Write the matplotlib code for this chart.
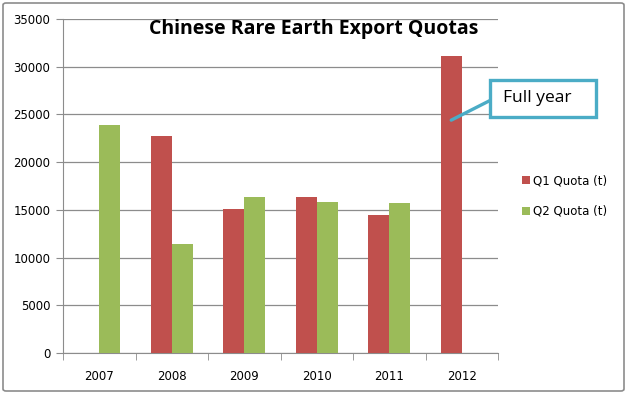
import matplotlib.pyplot as plt
import numpy as np
from matplotlib.patches import FancyBboxPatch, Rectangle

years = ['2007', '2008', '2009', '2010', '2011', '2012']
q1 = [0, 22780, 15043, 16304, 14446, 31130]
q2 = [23900, 11390, 16300, 15800, 15738, 0]
ymax = 35000

RED = '#C0504D'
GREEN = '#9BBB59'
CALLOUT = '#4BACC6'

W, H = 628, 394
fig = plt.figure(figsize=(W / 100, H / 100), dpi=100)
# outer chart border
fig.patches.append(FancyBboxPatch((3 / W, 3 / H), 621 / W, 388 / H,
                                  boxstyle='round,pad=0,rounding_size=0.005',
                                  transform=fig.transFigure, fill=False,
                                  edgecolor='#8c8c8c', lw=1.2))

ax = fig.add_axes([63 / W, 41 / H, 435 / W, 334 / H])
x = np.arange(len(years))
w = 0.29
ax.bar(x - w / 2, q1, w, color=RED, label='Q1 Quota (t)', zorder=3)
ax.bar(x + w / 2, q2, w, color=GREEN, label='Q2 Quota (t)', zorder=3)

ax.set_xlim(-0.5, len(years) - 0.5)
ax.set_ylim(0, ymax)
ax.set_yticks(np.arange(0, ymax + 1, 5000))
ax.yaxis.grid(True, color='#8c8c8c', lw=0.9, zorder=0)
ax.set_xticks(x)
ax.set_xticklabels(years)
ax.set_xticks(np.arange(-0.5, len(years), 1), minor=True)
ax.tick_params(axis='x', which='major', length=0, pad=12, labelsize=8.5)
ax.tick_params(axis='x', which='minor', length=5, color='#8c8c8c', direction='out')
ax.tick_params(axis='y', length=5, color='#8c8c8c', labelsize=8.5, pad=4)
for s in ['top', 'right']:
    ax.spines[s].set_visible(False)
ax.spines['left'].set_color('#8c8c8c')
ax.spines['bottom'].set_color('#8c8c8c')

fig.text(314 / W, 1 - 29 / H, 'Chinese Rare Earth Export Quotas',
         ha='center', va='center', fontsize=14, fontweight='bold',
         family='Open Sans')

ax.legend(loc='center left', bbox_to_anchor=(1.03, 0.47), frameon=False,
          fontsize=8.5, handlelength=0.7, handleheight=0.7, handletextpad=0.3,
          labelspacing=1.5)

# callout box "Full year"
bx0, by0, bw, bh = 490, 80, 106, 37
fig.patches.append(Rectangle((bx0 / W, 1 - (by0 + bh) / H), bw / W, bh / H,
                             transform=fig.transFigure, fc='white',
                             ec=CALLOUT, lw=2.4, zorder=5))
fig.text(503 / W, 1 - (by0 + bh / 2) / H, 'Full year', ha='left', va='center',
         fontsize=12.5, family='Open Sans', zorder=6)
ax.annotate('', xy=(5 - w / 2, 24400), xycoords='data',
            xytext=(bx0 / W, 1 - (by0 + bh / 2 + 2) / H),
            textcoords='figure fraction',
            arrowprops=dict(arrowstyle='-', color=CALLOUT, lw=2.4,
                            shrinkA=0, shrinkB=0),
            annotation_clip=False, zorder=4)

fig.savefig('out.png', dpi=100)
